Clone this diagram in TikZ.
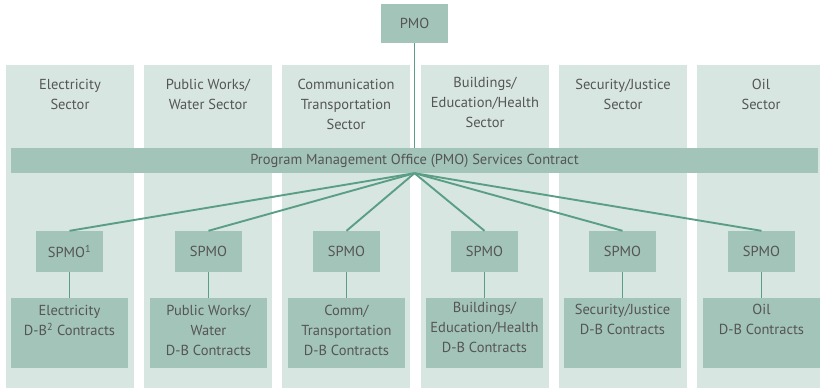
\documentclass[tikz,border=0pt]{standalone}
\usepackage{fontspec}
\setmainfont{PT Sans}
\usetikzlibrary{positioning}
\definecolor{sectorbg}{RGB}{215,230,224}
\definecolor{boxgreen}{RGB}{163,196,184}
\definecolor{linkgreen}{RGB}{91,158,134}
\definecolor{txtgray}{RGB}{85,85,85}

\begin{document}
\begin{tikzpicture}[x=1pt, y=-1pt,
    every node/.style={font=\fontsize{14.5}{20}\selectfont, text=txtgray},
    sectorcol/.style={fill=sectorbg, minimum width=128pt, minimum height=323pt, anchor=north, inner sep=0},
    sectortext/.style={align=center, anchor=north, inner sep=0},
    greenbox/.style={fill=boxgreen, inner sep=0, align=center},
    spmobox/.style={greenbox, minimum width=67pt, minimum height=41pt},
    dbbox/.style={greenbox, minimum width=117pt, minimum height=70pt, anchor=north},
    link/.style={draw=linkgreen, line width=1.9pt}]
            \useasboundingbox (0,0) rectangle (820,389);

            % sector columns
            \node[sectorcol] (colelec) at (70,65) {};
            \node[sectorcol] (colpubw) at (208,65) {};
            \node[sectorcol] (colcomm) at (346,65) {};
            \node[sectorcol] (colbldg) at (485,65) {};
            \node[sectorcol] (colsecj) at (623,65) {};
            \node[sectorcol, minimum width=123pt] (coloil) at (758.5,65) {};

            \node[sectortext] (elec) at (70,79) {Electricity\\Sector};
            \node[sectortext] (pubw) at (208,79) {Public Works/\\Water Sector};
            \node[sectortext] (comm) at (346,79) {Communication\\Transportation\\Sector};
            \node[sectortext] (bldg) at (485,77) {Buildings/\\Education/Health\\Sector};
            \node[sectortext] (secj) at (623,79) {Security/Justice\\Sector};
            \node[sectortext] (oil) at (761,79) {Oil\\Sector};

            % PMO and services contract
            \node[greenbox, minimum width=67pt, minimum height=39pt] (pmo) at (414.5,23.5) {PMO};
            \draw[link] (pmo) -- (414.5,160.5);
            \node[greenbox, minimum width=807pt, minimum height=25pt] (pmosc) at (414.5,160.5) {Program Management Office (PMO) Services Contract};

            % SPMOs
            \node[spmobox] (spmoelec) at (69.5,251.5) {SPMO\textsuperscript{1}};
            \node[spmobox] (spmopubw) at (208.5,251.5) {SPMO};
            \node[spmobox] (spmocomm) at (346.5,251.5) {SPMO};
            \node[spmobox] (spmobldg) at (484.5,251.5) {SPMO};
            \node[spmobox] (spmosecj) at (622.5,251.5) {SPMO};
            \node[spmobox] (spmooil) at (761.5,251.5) {SPMO};

            % D-B contracts
            \node[dbbox] (dbelec) at (69.5,298) {};
            \node[dbbox] (dbpubw) at (208.5,298) {};
            \node[dbbox] (dbcomm) at (346.5,298) {};
            \node[dbbox] (dbbldg) at (484.5,298) {};
            \node[dbbox] (dbsecj) at (622.5,298) {};
            \node[dbbox] (dboil) at (761.5,298) {};

            \node[sectortext] at ([yshift=-7pt]dbelec.north) {Electricity\\D-B\textsuperscript{2} Contracts};
            \node[sectortext] at ([yshift=-7pt]dbpubw.north) {Public Works/\\Water\\D-B Contracts};
            \node[sectortext] at ([yshift=-7pt]dbcomm.north) {Comm/\\Transportation\\D-B Contracts};
            \node[sectortext] at ([yshift=-4pt]dbbldg.north) {Buildings/\\Education/Health\\D-B Contracts};
            \node[sectortext] at ([yshift=-6pt]dbsecj.north) {Security/Justice\\D-B Contracts};
            \node[sectortext] at ([yshift=-6pt]dboil.north) {Oil\\D-B Contracts};

            \draw[link] (pmosc.south) -- (spmoelec.north);
            \draw[link] (pmosc.south) -- (spmopubw.north);
            \draw[link] (pmosc.south) -- (spmocomm.north);
            \draw[link] (pmosc.south) -- (spmobldg.north);
            \draw[link] (pmosc.south) -- (spmosecj.north);
            \draw[link] (pmosc.south) -- (spmooil.north);

            \draw[link] (spmoelec) -- (dbelec);
            \draw[link] (spmopubw) -- (dbpubw);
            \draw[link] (spmocomm) -- (dbcomm);
            \draw[link] (spmobldg) -- (dbbldg);
            \draw[link] (spmosecj) -- (dbsecj);
            \draw[link] (spmooil) -- (dboil);
        \end{tikzpicture}
\end{document}
